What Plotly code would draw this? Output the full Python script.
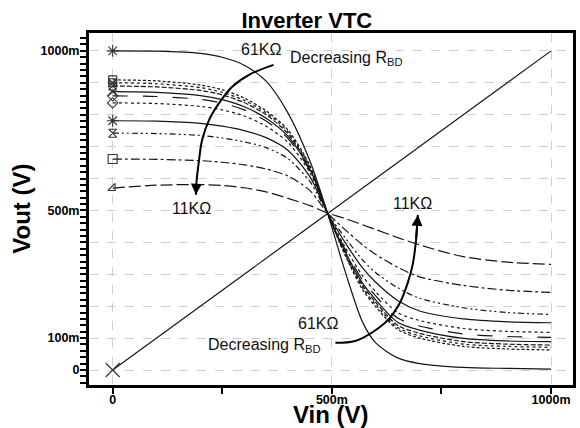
import plotly.graph_objects as go

# ---- data (mV) ----
vin = [0, 100, 200, 250, 300, 350, 400, 450, 490, 530, 570, 600, 650, 700, 800, 900, 1000]

labels = ["61K", "56K", "51K", "46K", "41K", "36K", "31K", "26K", "21K", "16K", "11K"]

vout_61k = [1000, 999, 992, 980, 955, 905, 805, 655, 492, 310, 150, 85, 38, 20, 8, 5, 3]
vout_56k = [909, 906, 893, 878, 852, 812, 752, 640, 492, 360, 252, 198, 127, 100, 74, 66, 63]
vout_51k = [900, 897, 885, 870, 845, 806, 746, 636, 492, 363, 258, 205, 133, 107, 81, 74, 71]
vout_46k = [890, 887, 876, 862, 838, 800, 740, 632, 492, 367, 265, 212, 140, 115, 89, 81, 78]
vout_41k = [872, 870, 860, 847, 825, 789, 732, 628, 492, 372, 272, 220, 150, 125, 99, 91, 89]
vout_36k = [859, 857, 848, 836, 815, 780, 725, 624, 492, 378, 282, 232, 163, 138, 113, 105, 102]
vout_31k = [837, 835, 826, 815, 796, 764, 713, 618, 492, 385, 295, 245, 180, 155, 130, 121, 118]
vout_26k = [781, 780, 773, 764, 750, 728, 688, 605, 492, 400, 320, 275, 218, 185, 160, 151, 148]
vout_21k = [742, 741, 735, 727, 715, 697, 662, 590, 492, 415, 345, 305, 258, 225, 195, 180, 174]
vout_16k = [661, 660, 656, 651, 643, 630, 608, 562, 492, 440, 392, 362, 322, 292, 265, 250, 243]
vout_11k = [570, 579, 581, 578, 571, 558, 538, 515, 492, 475, 455, 440, 415, 392, 355, 338, 331]

diag_vin = [0, 1000]
diag_vout = [0, 1000]

arrow1_vin = [367, 311, 272, 243, 220, 204, 197, 191, 190]
arrow1_vout = [956, 925, 887, 837, 784, 721, 658, 586, 549]
arrow2_vin = [508, 553, 590, 628, 655, 673, 685, 692, 696]
arrow2_vout = [85, 91, 116, 157, 210, 273, 335, 408, 486]

x_tickvals = [0, 500, 1000]
x_ticktext = ["0", "500m", "1000m"]
y_tickvals = [0, 100, 200, 300, 400, 500, 600, 700, 800, 900, 1000]
y_ticktext = ["0", "100m", "", "", "", "500m", "", "", "", "", "1000m"]

# ---- styles ----
curves = [vout_61k, vout_56k, vout_51k, vout_46k, vout_41k, vout_36k,
          vout_31k, vout_26k, vout_21k, vout_16k, vout_11k]
dashes = ["solid", "3px,2px", "dot", "5px,2px", "solid", "longdash",
          "dot", "solid", "6px,3px,2px,3px,2px,3px", "dashdot", "12px,4px"]
symbols = ["asterisk-open", "square-open", "square-x-open", "hourglass-open",
           "x-thin-open", "diamond-open", "diamond-open", "asterisk-open",
           "hourglass-open", "square-open", "triangle-se-open"]
sizes = [10, 8, 8, 8, 8, 8, 8, 10, 8, 9, 8]

LC = "#151515"
FONT = "Liberation Sans, Arial, sans-serif"

fig = go.Figure()

for lab, vy, d, s, sz in zip(labels, curves, dashes, symbols, sizes):
    fig.add_trace(go.Scatter(x=vin, y=vy, mode="lines", name=lab,
                             line=dict(color=LC, width=1.2, dash=d,
                                       shape="spline", smoothing=0.8),
                             hoverinfo="skip"))
    fig.add_trace(go.Scatter(x=[vin[0]], y=[vy[0]], mode="markers",
                             marker=dict(symbol=s, size=sz, color="#333",
                                         line=dict(width=1.1, color="#333")),
                             hoverinfo="skip"))

fig.add_trace(go.Scatter(x=diag_vin, y=diag_vout, mode="lines",
                         line=dict(color=LC, width=1.2)))
fig.add_trace(go.Scatter(x=[diag_vin[0]], y=[diag_vout[0]], mode="markers",
                         marker=dict(symbol="x-thin-open", size=14, color="#333",
                                     line=dict(width=1.1, color="#333"))))

# curved arrows
for ax_, ay_ in [(arrow1_vin, arrow1_vout), (arrow2_vin, arrow2_vout)]:
    fig.add_trace(go.Scatter(x=ax_, y=ay_, mode="lines",
                             line=dict(color="black", width=2, shape="spline")))
    fig.add_annotation(x=ax_[-1], y=ay_[-1], ax=ax_[-2], ay=ay_[-2],
                       xref="x", yref="y", axref="x", ayref="y",
                       text="", showarrow=True, arrowhead=2, arrowsize=1.1,
                       arrowwidth=2, arrowcolor="black")

def label(txt, x, y, size=16, xanchor="center"):
    fig.add_annotation(x=x, y=y, xref="x", yref="y", text=txt, showarrow=False,
                       xanchor=xanchor, yanchor="middle",
                       font=dict(family=FONT, size=size, color="#111"))

label("61KΩ", 338, 1003)
label("Decreasing R<sub>BD</sub>", 400, 975, xanchor="left")
label("11KΩ", 179, 505)
label("61KΩ", 469, 147)
label("Decreasing R<sub>BD</sub>", 212, 78, xanchor="left")
label("11KΩ", 685, 523)

# axis titles
fig.add_annotation(x=0.501, y=-0.083, xref="paper", yref="paper",
                   text="<b>Vin (V)</b>", showarrow=False, yanchor="middle",
                   font=dict(family=FONT, size=24, color="black"))
fig.add_annotation(x=-0.141, y=0.50, xref="paper", yref="paper",
                   text="<b>Vout (V)</b>", showarrow=False, textangle=-90,
                   xanchor="center", yanchor="middle",
                   font=dict(family=FONT, size=24, color="black"))

fig.update_layout(
    width=580, height=428,
    margin=dict(l=89, r=4, t=33, b=43),
    paper_bgcolor="white", plot_bgcolor="white",
    showlegend=False,
    title=dict(text="<b>Inverter VTC</b>", x=0.529, xref="container",
               xanchor="center", y=0.952, yref="container", yanchor="middle",
               font=dict(family=FONT, size=22, color="black")),
    font=dict(family=FONT),
)

fig.update_xaxes(
    range=[-54, 1050], tickmode="array", tickvals=x_tickvals, ticktext=x_ticktext,
    ticks="outside", ticklen=6, tickwidth=2, tickcolor="black",
    ticklabelstandoff=-5,
    tickfont=dict(family=FONT, size=12.5, color="black", weight="bold"),
    showgrid=True, gridcolor="#cfcfcf", griddash="dash", gridwidth=1,
    zeroline=False, showline=True, linecolor="black", linewidth=3, mirror=True,
    minor=dict(tickvals=[250, 750], ticks="outside", ticklen=6, tickwidth=2,
               tickcolor="black", showgrid=False),
)
fig.update_yaxes(
    range=[-47, 1056], tickmode="array", tickvals=y_tickvals, ticktext=y_ticktext,
    ticks="outside", ticklen=6, tickwidth=2, tickcolor="black",
    ticklabelstandoff=-2,
    tickfont=dict(family=FONT, size=12.5, color="black", weight="bold"),
    showgrid=True, gridcolor="#cfcfcf", griddash="dash", gridwidth=1,
    zeroline=False, showline=True, linecolor="black", linewidth=3, mirror=True,
    minor=dict(tickvals=list(range(-40, 1060, 20)), ticks="outside", ticklen=6,
               tickwidth=1.5, tickcolor="black", showgrid=False),
)

fig.write_html("out.html")
